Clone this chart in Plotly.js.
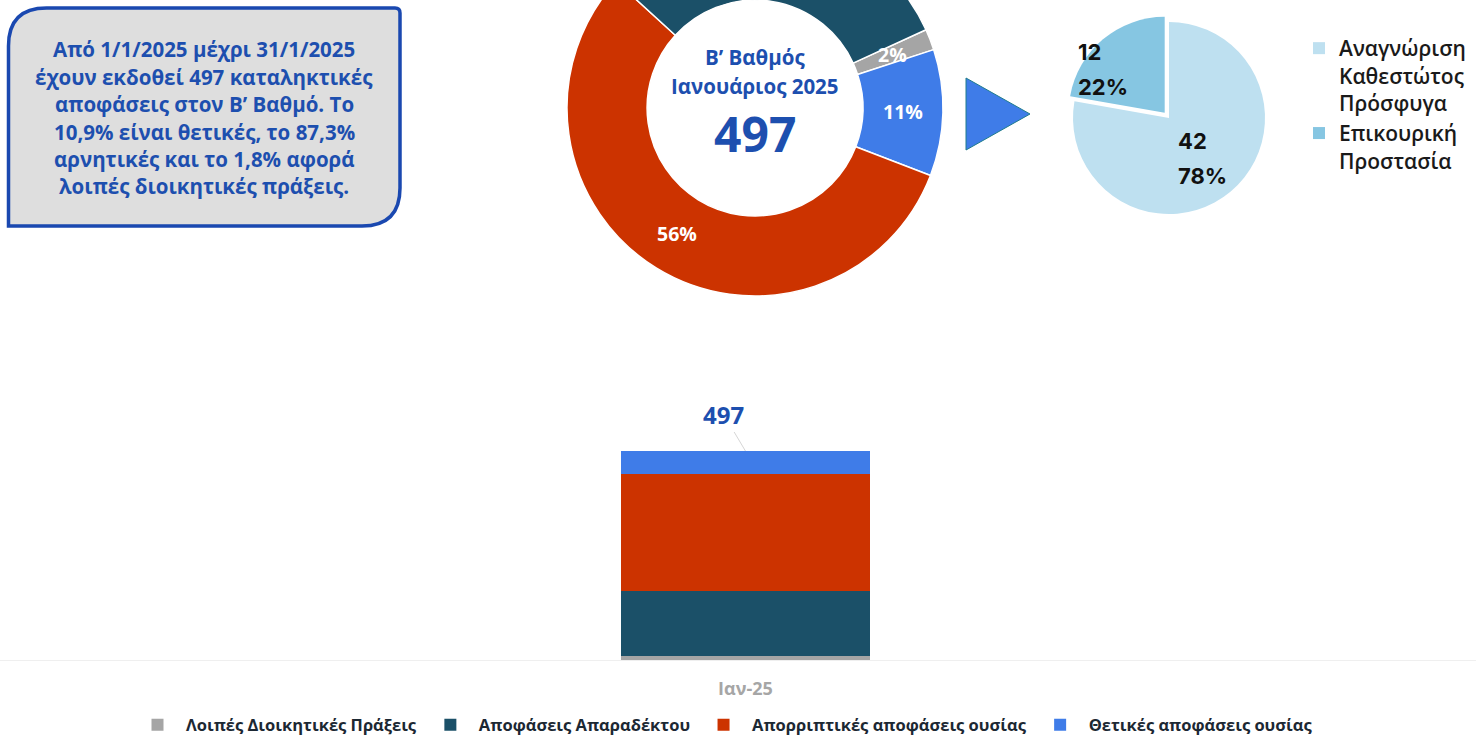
<!DOCTYPE html>
<html><head><meta charset="utf-8">
<script src="https://cdn.plot.ly/plotly-3.0.1.min.js"></script>
<style>
html,body{margin:0;padding:0;overflow:hidden;background:#fff;width:1480px;height:735px}
#wrap{position:relative;width:1480px;height:735px;overflow:hidden}
#chart{position:absolute;left:0;top:-80px;width:1480px;height:855px}
</style>
</head><body><div id="wrap"><div id="chart"></div></div>
<script>
// ---------- data ----------
const months = ['Ιαν-25'];
const seriesNames = ['Λοιπές Διοικητικές Πράξεις', 'Αποφάσεις Απαραδέκτου', 'Απορριπτικές αποφάσεις ουσίας', 'Θετικές αποφάσεις ουσίας'];
const loipes = [9];
const aparadektou = [156];
const aporriptikes = [278];
const thetikes = [54];
const seriesColors = ['#A5A5A5', '#1B5068', '#CC3300', '#3F7CE8'];

const positiveLabels = ['Αναγνώριση<br>Καθεστώτος<br>Πρόσφυγα', 'Επικουρική<br>Προστασία'];
const positiveValues = [42, 12];
const positiveColors = ['#BEE0F0', '#86C6E2'];

const centerTitle = ['Β’ Βαθμός', 'Ιανουάριος 2025'];
const summaryLines = [
  'Από 1/1/2025 μέχρι 31/1/2025',
  'έχουν εκδοθεί 497 καταληκτικές',
  'αποφάσεις στον Β’ Βαθμό. Το',
  '10,9% είναι θετικές, το 87,3%',
  'αρνητικές και το 1,8% αφορά',
  'λοιπές διοικητικές πράξεις.'
];

// ---------- geometry helpers ----------
const W = 1480, H = 855, OFF = 80;
const fx = x => x / W;
const fy = y => 1 - (y + OFF) / H;

const total = loipes[0] + aparadektou[0] + aporriptikes[0] + thetikes[0];
const blue = '#1D4FAF';
const FONT = '"Open Sans", "Noto Sans", sans-serif';

// donut (order clockwise from its rotation)
const donutLabels = [seriesNames[0], seriesNames[3], seriesNames[2], seriesNames[1]];
const donutValues = [loipes[0], thetikes[0], aporriptikes[0], aparadektou[0]];
const donutColors = [seriesColors[0], seriesColors[3], seriesColors[2], seriesColors[1]];
const DON = {cx: 755, cy: 108, r: 188, hole: 0.574, rot: 65.4};

// right pie
const PIE = {cx: 1169, cy: 118, r: 96, pull: 0.07};
const pieHalf = PIE.r * (1 + PIE.pull);

const traces = [];
[loipes, aparadektou, aporriptikes, thetikes].forEach((vals, i) => {
  traces.push({
    type: 'bar', x: months, y: vals, name: seriesNames[i],
    marker: {color: seriesColors[i], line: {width: 0}},
    xaxis: 'x', yaxis: 'y', hoverinfo: 'name+y', legend: 'legend'
  });
});

traces.push({
  type: 'pie', labels: donutLabels, values: donutValues, sort: false,
  direction: 'clockwise', rotation: DON.rot, hole: DON.hole,
  marker: {colors: donutColors, line: {color: '#ffffff', width: 1.5}},
  textinfo: 'none', showlegend: false,
  domain: {x: [fx(DON.cx - DON.r), fx(DON.cx + DON.r)], y: [fy(DON.cy + DON.r), fy(DON.cy - DON.r)]}
});

traces.push({
  type: 'pie', labels: positiveLabels, values: positiveValues, sort: false,
  direction: 'clockwise', rotation: 0, pull: [0, PIE.pull],
  marker: {colors: positiveColors, line: {width: 0}},
  textinfo: 'none', legend: 'legend2',
  domain: {x: [fx(PIE.cx - pieHalf), fx(PIE.cx + pieHalf)], y: [fy(PIE.cy + pieHalf), fy(PIE.cy - pieHalf)]}
});

// ---------- annotations ----------
const ann = [];
function txt(x, y, text, size, color, extra) {
  ann.push(Object.assign({xref: 'paper', yref: 'paper', x: fx(x), y: fy(y), text: text, showarrow: false,
    xanchor: 'center', yanchor: 'middle', font: {family: FONT, size: size, color: color, weight: 700}}, extra || {}));
}
// summary box text
summaryLines.forEach((l, i) => txt(204, 49 + i * 27.5, l, 20.5, blue));
// donut center
txt(DON.cx, 57, centerTitle[0], 20.5, blue);
txt(DON.cx, 86, centerTitle[1], 20.5, blue);
txt(DON.cx, 134, String(total), 48, blue);
// donut percentage labels at mid-ring, mid-angle (only those inside the visible page)
(function () {
  let cum = 0;
  const rMid = DON.r * (1 + DON.hole) / 2;
  donutValues.forEach(v => {
    const a = (DON.rot + (cum + v / 2) / total * 360) * Math.PI / 180;
    cum += v;
    const y = DON.cy - rMid * Math.cos(a);
    if (y < 10) return;
    txt(DON.cx + rMid * Math.sin(a), y, Math.round(v / total * 100) + '%', 19.5, '#ffffff');
  });
})();
// right pie labels
(function () {
  const sum = positiveValues.reduce((a, b) => a + b, 0);
  const pulls = [0, PIE.pull];
  const radial = [0.54, 0.80];
  const angleBias = [0, -13.7];
  let cum = 0;
  positiveValues.forEach((v, i) => {
    const a = ((cum + v / 2) / sum * 360 + angleBias[i]) * Math.PI / 180;
    cum += v;
    const d = PIE.r * (radial[i] + pulls[i]);
    const x = PIE.cx + d * Math.sin(a), y = PIE.cy - d * Math.cos(a);
    const f = {family: 'Inter, "Open Sans", sans-serif', size: 22, color: '#111111', weight: 700};
    ann.push({xref: 'paper', yref: 'paper', x: fx(x - 26), y: fy(y - 17), text: String(v), showarrow: false, xanchor: 'left', yanchor: 'middle', font: f});
    ann.push({xref: 'paper', yref: 'paper', x: fx(x - 26), y: fy(y + 18), text: Math.round(v / sum * 100) + '%', showarrow: false, xanchor: 'left', yanchor: 'middle', font: f});
  });
})();
// bar total label with leader line
ann.push({xref: 'x', yref: 'y', x: months[0], y: total, text: String(total), showarrow: true,
  arrowhead: 0, arrowwidth: 1, arrowcolor: '#d6d6d6', ax: -22, ay: -37,
  font: {family: FONT, size: 24, color: blue, weight: 700}});

// ---------- shapes ----------
function P(x, y) { return fx(x) + ',' + fy(y); }
const bx0 = 8.5, by0 = 8, bx1 = 400, by1 = 226, rBig = 38, rSmall = 5;
const boxPath = 'M' + P(bx0, by0 + rBig) + ' Q' + P(bx0, by0) + ' ' + P(bx0 + rBig, by0) +
  ' L' + P(bx1 - rSmall, by0) + ' Q' + P(bx1, by0) + ' ' + P(bx1, by0 + rSmall) +
  ' L' + P(bx1, by1 - rBig) + ' Q' + P(bx1, by1) + ' ' + P(bx1 - rBig, by1) +
  ' L' + P(bx0, by1) + ' Z';
const shapes = [
  {type: 'path', xref: 'paper', yref: 'paper', path: boxPath, fillcolor: '#DEDEDE', line: {color: '#1A48B0', width: 3.5}, layer: 'below'},
  {type: 'path', xref: 'paper', yref: 'paper', path: 'M' + P(966, 78) + ' L' + P(1030, 114) + ' L' + P(966, 150) + ' Z',
    fillcolor: '#3F7CE8', line: {color: '#1E7C8C', width: 1}}
];

const layout = {
  width: W, height: H, autosize: false,
  margin: {l: 0, r: 0, t: 0, b: 0},
  paper_bgcolor: '#ffffff', plot_bgcolor: 'rgba(0,0,0,0)',
  barmode: 'stack', bargap: 0.833,
  xaxis: {type: 'category', domain: [0, 1476 / W], range: [-0.5, 0.49], showline: true, linecolor: '#EFEFEF', linewidth: 1,
    ticks: '', showgrid: false, zeroline: false, ticklabelstandoff: 12,
    tickfont: {family: FONT, size: 18, color: '#A6A6A6', weight: 700}, fixedrange: true},
  yaxis: {domain: [fy(660), fy(660 - 800 * 209 / 497)], range: [0, 800], visible: false, showgrid: false, zeroline: false, fixedrange: true},
  showlegend: true,
  legend: {orientation: 'h', x: fx(129), xanchor: 'left', y: fy(725), yanchor: 'middle', traceorder: 'normal', itemwidth: 47,
    font: {family: FONT, size: 16.5, color: '#1C2833', weight: 700}, bgcolor: 'rgba(0,0,0,0)'},
  legend2: {x: fx(1299), xanchor: 'left', y: fy(28), yanchor: 'top', valign: 'top', traceorder: 'normal',
    font: {family: FONT, size: 21, color: '#1A1A1A', weight: 600}, bgcolor: 'rgba(0,0,0,0)', tracegroupgap: 6},
  annotations: ann,
  shapes: shapes
};

Plotly.newPlot('chart', traces, layout, {displayModeBar: false, staticPlot: true});
</script>
</body></html>
